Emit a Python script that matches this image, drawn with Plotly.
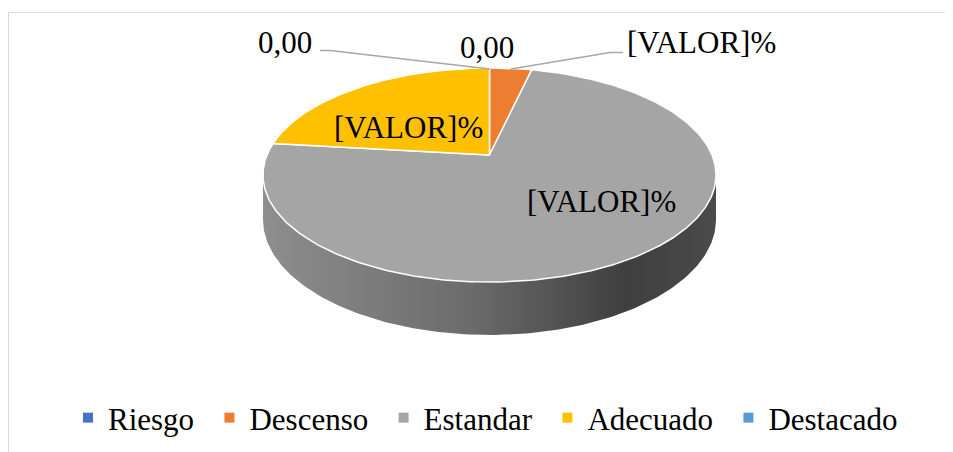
import numpy as np
import plotly.graph_objects as go

# ---- data ----
categories = ["Riesgo", "Descenso", "Estandar", "Adecuado", "Destacado"]
values = [0.0, 3.6, 73.2, 23.2, 0.0]
colors = ["#4472C4", "#ED7D31", "#A5A5A5", "#FFC000", "#5B9BD5"]
label_texts = ["0,00", "[VALOR]%", "[VALOR]%", "[VALOR]%", "0,00"]

# ---- layout constants (screen-pixel space; page body has an 8px margin) ----
OFF = 8
W, HGT = 953 - OFF, 452 - OFF
CX, CY = 489.5, 155.0            # projected centre of the top face
SX, C, K = 222.5, 103.3, 0.187   # horizontal scale, depth scale, perspective
DROP = 43.0                      # thickness of the pie
FONT = "Liberation Serif"
FS = 31


def proj(theta, r=1.0, drop=0.0):
    x = r * np.sin(theta)
    z = r * np.cos(theta)
    d = 1 + K * z
    return CX + SX * x / d, CY - (C * z - drop) / d


fig = go.Figure()

# side wall (front, visible part)
t_r = np.arccos(-K)
t_l = 2 * np.pi - t_r
ts = np.linspace(t_r, t_l, 200)
xt, yt = proj(ts)
xb, yb = proj(ts[::-1], drop=DROP)
fig.add_trace(go.Scatter(
    x=np.concatenate([xt, xb, xt[:1]]), y=np.concatenate([yt, yb, yt[:1]]),
    mode="lines", fill="toself", line=dict(width=0, color="rgba(0,0,0,0)"),
    fillgradient=dict(type="horizontal",
                      colorscale=[[0, "#8e8e8e"], [0.45, "#6c6c6c"],
                                  [0.8, "#3f3f3f"], [1, "#4a4a4a"]]),
    hoverinfo="skip", showlegend=False))

# top face slices
total = sum(values)
cum = 0.0
for cat, v, col in zip(categories, values, colors):
    a0 = 2 * np.pi * cum / total
    cum += v
    a1 = 2 * np.pi * cum / total
    if v <= 0:
        continue
    n = max(int(400 * v / total), 8)
    th = np.linspace(a0, a1, n)
    ax_, ay_ = proj(th)
    fig.add_trace(go.Scatter(
        x=np.concatenate([[CX], ax_, [CX]]), y=np.concatenate([[CY], ay_, [CY]]),
        mode="lines", fill="toself", fillcolor=col,
        line=dict(color="white", width=1.5),
        hoverinfo="skip", showlegend=False))

# legend entries (small trailing pad to reproduce the wider spacing)
for cat, col in zip(categories, colors):
    fig.add_trace(go.Scatter(x=[None], y=[None], mode="markers",
                             name=cat + "\u00a0\u200a",
                             marker=dict(symbol="square", size=10, color=col)))

# leader lines
fig.add_trace(go.Scatter(x=[320, 330, 490], y=[50.5, 50.5, 69], mode="lines",
                         line=dict(color="#A6A6A6", width=1.5),
                         hoverinfo="skip", showlegend=False))
fig.add_trace(go.Scatter(x=[511, 610, 623], y=[69, 52.5, 52.5], mode="lines",
                         line=dict(color="#A6A6A6", width=1.5),
                         hoverinfo="skip", showlegend=False))

# data labels
label_pos = [(285, 42), (701, 42), (601, 201), (408, 127), (487, 47)]
for txt, (lx, ly) in zip(label_texts, label_pos):
    fig.add_annotation(x=lx, y=ly, text=txt, showarrow=False,
                       xanchor="center", yanchor="middle",
                       font=dict(family=FONT, size=FS, color="black"))

# chart border
fig.add_shape(type="rect", x0=8.5, y0=12.5, x1=960, y1=460,
              line=dict(color="#D9D9D9", width=1), fillcolor="rgba(0,0,0,0)")

fig.update_layout(
    width=W, height=HGT, margin=dict(l=0, r=0, t=0, b=0),
    paper_bgcolor="white", plot_bgcolor="white",
    xaxis=dict(range=[OFF, OFF + W], visible=False, fixedrange=True),
    yaxis=dict(range=[OFF + HGT, OFF], visible=False, fixedrange=True),
    legend=dict(orientation="h", x=(68 - OFF) / W, xanchor="left",
                y=1 - (418 - OFF) / HGT, yanchor="middle",
                font=dict(family=FONT, size=FS, color="black"),
                itemsizing="trace", bgcolor="rgba(0,0,0,0)"),
    showlegend=True,
)

fig.write_html("out.html")
